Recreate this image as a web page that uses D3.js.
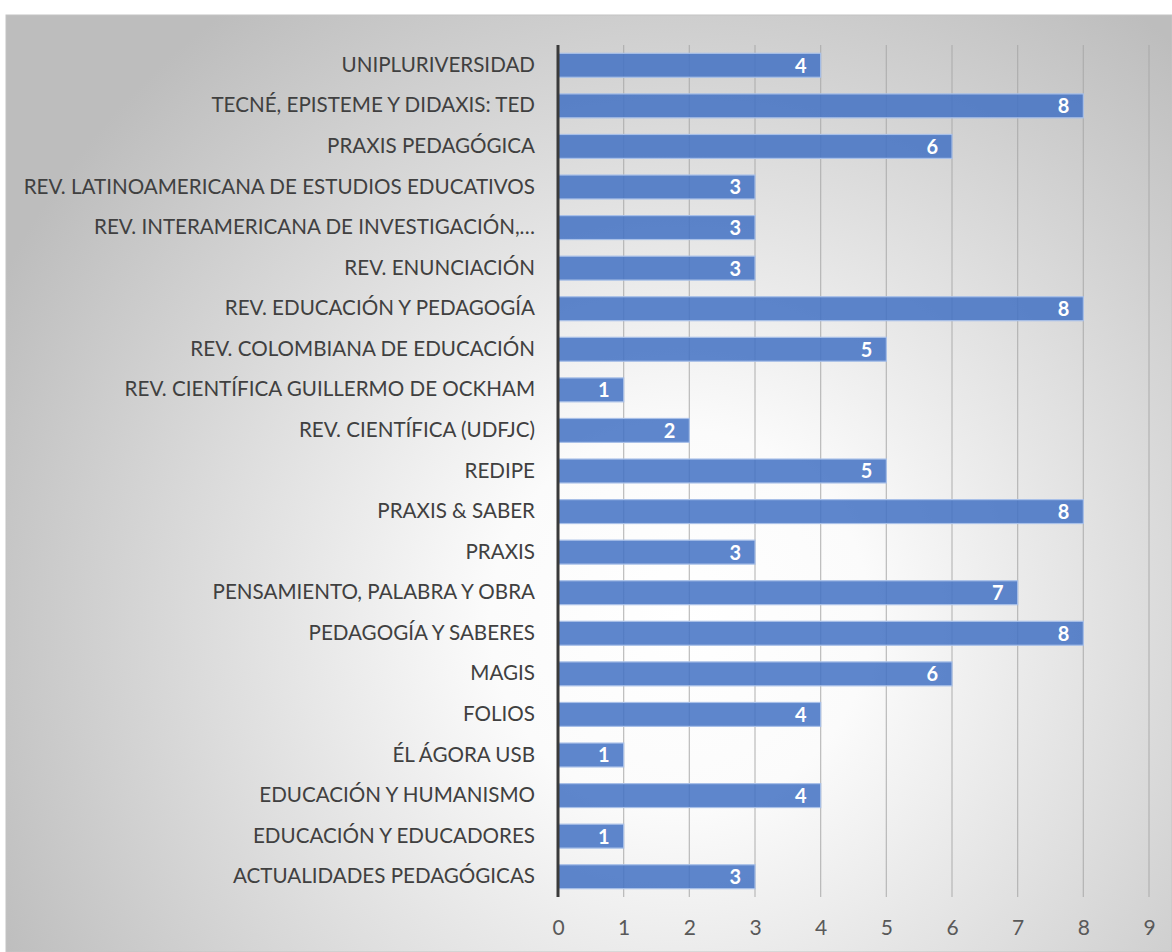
<!DOCTYPE html>
<html><head><meta charset="utf-8">
<script src="https://cdn.jsdelivr.net/npm/d3@7"></script>
<style>html,body{margin:0;padding:0;background:#fff;}svg{display:block;}</style>
</head><body>
<svg id="chart" width="1172" height="952"></svg>
<script>
const categories = [
  "UNIPLURIVERSIDAD",
  "TECNÉ, EPISTEME Y DIDAXIS: TED",
  "PRAXIS PEDAGÓGICA",
  "REV. LATINOAMERICANA DE ESTUDIOS EDUCATIVOS",
  "REV. INTERAMERICANA DE INVESTIGACIÓN,…",
  "REV. ENUNCIACIÓN",
  "REV. EDUCACIÓN Y PEDAGOGÍA",
  "REV. COLOMBIANA DE EDUCACIÓN",
  "REV. CIENTÍFICA GUILLERMO DE OCKHAM",
  "REV. CIENTÍFICA (UDFJC)",
  "REDIPE",
  "PRAXIS & SABER",
  "PRAXIS",
  "PENSAMIENTO, PALABRA Y OBRA",
  "PEDAGOGÍA Y SABERES",
  "MAGIS",
  "FOLIOS",
  "ÉL ÁGORA USB",
  "EDUCACIÓN Y HUMANISMO",
  "EDUCACIÓN Y EDUCADORES",
  "ACTUALIDADES PEDAGÓGICAS"
];
const values = [4, 8, 6, 3, 3, 3, 8, 5, 1, 2, 5, 8, 3, 7, 8, 6, 4, 1, 4, 1, 3];
const xTicks = [0, 1, 2, 3, 4, 5, 6, 7, 8, 9];

const svg = d3.select("#chart");
const W = 1172, H = 952;
const FONT = "Lato, 'Open Sans', sans-serif";

const defs = svg.append("defs");
const grad = defs.append("radialGradient").attr("id", "bg")
  .attr("gradientUnits", "userSpaceOnUse")
  .attr("cx", 680).attr("cy", 620).attr("r", 760);
grad.append("stop").attr("offset", "0%").attr("stop-color", "#ffffff");
grad.append("stop").attr("offset", "25%").attr("stop-color", "#fbfbfb");
grad.append("stop").attr("offset", "100%").attr("stop-color", "#bdbdbd");

svg.append("rect").attr("x", 6).attr("y", 15).attr("width", W - 6).attr("height", H - 15)
  .attr("fill", "url(#bg)").attr("stroke", "#c4c4c4").attr("stroke-width", 1);

const x = d3.scaleLinear().domain([0, 9]).range([558, 1149]);
const y = d3.scaleBand().domain(categories).range([45, 897]).paddingInner(0.41).paddingOuter(0.205);

// gridlines
svg.append("g").selectAll("line").data(xTicks.slice(1)).join("line")
  .attr("x1", d => x(d)).attr("x2", d => x(d))
  .attr("y1", 45).attr("y2", 897)
  .attr("stroke", "#a6a6a6").attr("stroke-opacity", 0.75).attr("stroke-width", 1.2);

// bars
svg.append("g").selectAll("rect").data(values).join("rect")
  .attr("x", x(0)).attr("y", (d, i) => y(categories[i]))
  .attr("width", d => x(d) - x(0)).attr("height", y.bandwidth())
  .attr("fill", "#4472c4").attr("fill-opacity", 0.86)
  .attr("stroke", "#a9c0e8").attr("stroke-width", 1.2);

// value labels
svg.append("g").selectAll("text").data(values).join("text")
  .attr("x", d => x(d) - 14)
  .attr("y", (d, i) => y(categories[i]) + y.bandwidth() / 2)
  .attr("dy", "0.37em")
  .attr("text-anchor", "end")
  .attr("font-family", FONT).attr("font-weight", "bold").attr("font-size", 20)
  .attr("fill", "#ffffff")
  .text(d => d);

// y axis
const yAxis = d3.axisLeft(y).tickSize(0).tickPadding(23);
const gy = svg.append("g").attr("transform", `translate(${x(0)},0)`).call(yAxis);
gy.select(".domain").remove();
gy.selectAll("text").attr("font-family", FONT).attr("font-size", 20.6).attr("fill", "#404040");
svg.append("line").attr("x1", x(0)).attr("x2", x(0)).attr("y1", 45).attr("y2", 897)
  .attr("stroke", "#3a3a3a").attr("stroke-width", 3);

// x axis
const xAxis = d3.axisBottom(x).tickValues(xTicks).tickSize(0).tickPadding(23).tickFormat(d3.format("d"));
const gx = svg.append("g").attr("transform", "translate(0,897)").call(xAxis);
gx.select(".domain").remove();
gx.selectAll("text").attr("font-family", FONT).attr("font-size", 21).attr("fill", "#595959");
</script>
</body></html>
